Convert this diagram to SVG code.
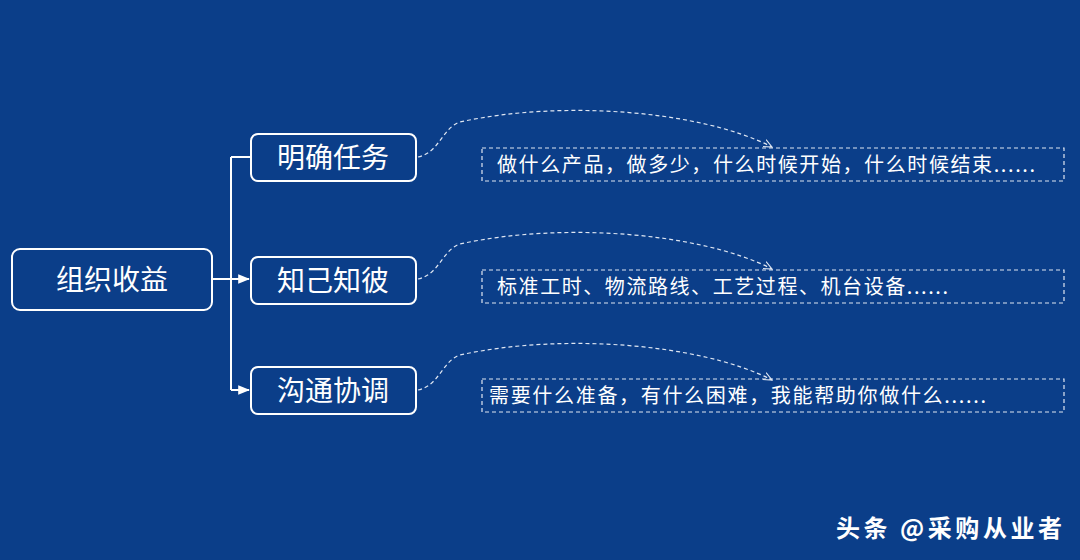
<svg xmlns="http://www.w3.org/2000/svg" width="1080" height="560" viewBox="0 0 1080 560">
<style>
.n{fill:none;stroke:#fff;stroke-width:2}
.t{fill:#fff;font-family:"Noto Sans CJK SC",sans-serif}
.d{fill:none;stroke:#dfe6f2;stroke-width:1.2;stroke-dasharray:4 3}
.c{fill:none;stroke:#fff;stroke-width:2}
</style>
<defs>
<marker id="a" viewBox="0 0 10 10" refX="9" refY="5" markerWidth="6" markerHeight="6" orient="auto"><path d="M0,1 L10,5 L0,9 Z" fill="#fff"/></marker>
<marker id="v" viewBox="0 0 10 10" refX="9" refY="5" markerWidth="8" markerHeight="8" orient="auto"><path d="M0,1 L9,5 L0,9" fill="none" stroke="#dfe6f2" stroke-width="1.2"/></marker>
</defs>
<rect width="1080" height="560" fill="#0b3e89"/>
<g id="connectors">
<path class="c" d="M212,279 H231 M231,157 V390 M231,157 H251"/>
<path class="c" d="M231,279 H249" marker-end="url(#a)"/>
<path class="c" d="M231,390 H249" marker-end="url(#a)"/>
<path class="d" d="M418,157 C440,152 442,128 460,122 C560,100 700,110 772,147" marker-end="url(#v)"/>
<path class="d" d="M418,279 C440,274 442,250 460,244 C560,222 700,232 772,269" marker-end="url(#v)"/>
<path class="d" d="M418,390 C440,385 442,361 460,355 C560,333 700,343 772,380" marker-end="url(#v)"/>
</g>
<g id="root"><rect class="n" x="12" y="249" width="200" height="61" rx="8"/><text class="t" x="112" y="290" font-size="28" text-anchor="middle">组织收益</text></g>
<g id="n1"><rect class="n" x="251" y="134" width="165" height="47" rx="7"/><text class="t" x="333" y="168" font-size="28" text-anchor="middle">明确任务</text></g>
<g id="n2"><rect class="n" x="251" y="257" width="165" height="47" rx="7"/><text class="t" x="333" y="291" font-size="28" text-anchor="middle">知己知彼</text></g>
<g id="n3"><rect class="n" x="251" y="367" width="165" height="47" rx="7"/><text class="t" x="333" y="401" font-size="28" text-anchor="middle">沟通协调</text></g>
<g id="d1"><rect class="d" x="482" y="148" width="582" height="33"/><text class="t" x="497" y="172" font-size="20" textLength="538" lengthAdjust="spacing">做什么产品，做多少，什么时候开始，什么时候结束......</text></g>
<g id="d2"><rect class="d" x="482" y="270" width="582" height="33"/><text class="t" x="497" y="294" font-size="20" textLength="451" lengthAdjust="spacing">标准工时、物流路线、工艺过程、机台设备......</text></g>
<g id="d3"><rect class="d" x="482" y="379" width="582" height="33"/><text class="t" x="489" y="403" font-size="20" textLength="497" lengthAdjust="spacing">需要什么准备，有什么困难，我能帮助你做什么......</text></g>
<text class="t" x="836" y="537" font-size="24" font-weight="bold" textLength="226">头条 @采购从业者</text>
</svg>
